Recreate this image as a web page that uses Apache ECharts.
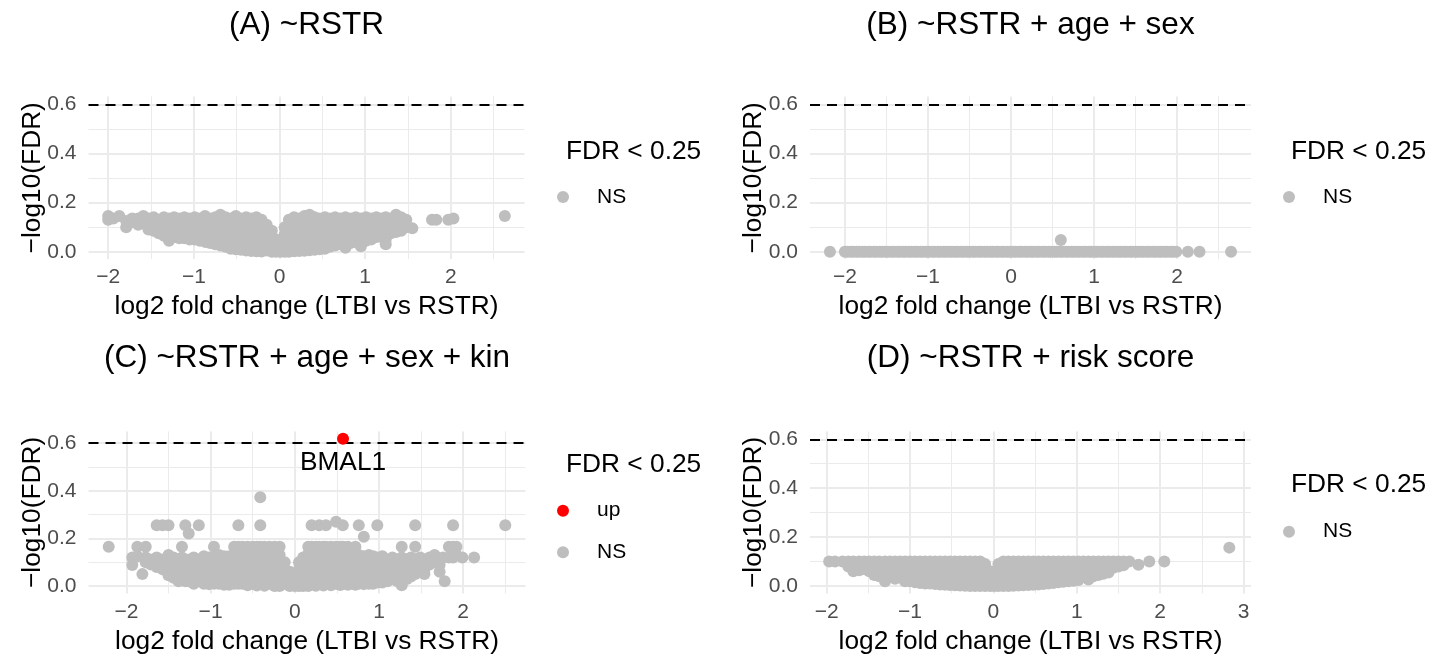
<!DOCTYPE html>
<html><head><meta charset="utf-8">
<script src="https://cdn.jsdelivr.net/npm/echarts@6/dist/echarts.min.js"></script>
<style>html,body{margin:0;padding:0;background:#fff}#c{width:1434px;height:658px}</style>
</head><body><div id="c"></div>
<script>
// ---------- text ----------
const panelTitles = ['(A) ~RSTR', '(B) ~RSTR + age + sex', '(C) ~RSTR + age + sex + kin', '(D) ~RSTR + risk score'];
const xTitle = 'log2 fold change (LTBI vs RSTR)';
const yTitle = '\u2212log10(FDR)';
const legendTitle = 'FDR < 0.25';
const nsName = 'NS';
const upName = 'up';
const upLabel = 'BMAL1';

// ---------- ticks / threshold ----------
const fdrLine = 0.602;              // -log10(0.25)
const yMajor = [0, 0.2, 0.4, 0.6];
const yMinor = [0.1, 0.3, 0.5];
const xMajorABC = [-2, -1, 0, 1, 2];
const xMinorABC = [-1.5, -0.5, 0.5, 1.5, 2.5];
const xMajorD = [-2, -1, 0, 1, 2, 3];
const xMinorD = [-1.5, -0.5, 0.5, 1.5, 2.5];
const xRangeA = [-2.23, 2.86], xRangeB = [-2.42, 2.89], xRangeC = [-2.45, 2.74], xRangeD = [-2.2, 3.09];
const yRangeABD = [-0.0301, 0.6321], yRangeC = [-0.0309, 0.6489];

// ---------- data: each row = [log2FC, -log10(FDR) values at that log2FC ...] ----------
const aNS = [
[-2.00,0.145,0.13],[-1.94,0.135],[-1.87,0.145],[-1.79,0.125,0.10],[-1.72,0.135,0.12],[-1.65,0.135,0.11],
[-1.59,0.145,0.115],[-1.53,0.135,0.11,0.09],[-1.47,0.14,0.11,0.085],[-1.41,0.13,0.10,0.075],
[-1.35,0.14,0.11,0.08,0.065],[-1.29,0.135,0.105,0.075,0.045],[-1.23,0.14,0.11,0.08,0.06],[-1.17,0.135,0.105,0.075,0.055],
[-1.11,0.14,0.11,0.08,0.055],[-1.05,0.135,0.105,0.075,0.05],[-0.99,0.14,0.11,0.08,0.05],[-0.93,0.135,0.105,0.075,0.045],
[-0.87,0.145,0.115,0.085,0.055,0.04],[-0.81,0.135,0.105,0.075,0.045,0.035],[-0.75,0.14,0.11,0.08,0.05,0.03],
[-0.69,0.15,0.12,0.09,0.06,0.035,0.025],[-0.63,0.14,0.11,0.08,0.05,0.025,0.02],[-0.57,0.135,0.105,0.075,0.045,0.02,0.012],
[-0.51,0.145,0.115,0.085,0.055,0.03,0.01],[-0.45,0.135,0.105,0.075,0.045,0.02,0.008],[-0.39,0.14,0.11,0.08,0.05,0.025,0.005],
[-0.33,0.135,0.105,0.075,0.045,0.02,0.003],[-0.27,0.14,0.11,0.08,0.05,0.025,0.002],[-0.21,0.13,0.10,0.07,0.04,0.015,0.001],
[-0.15,0.11,0.08,0.05,0.025,0.005],[-0.09,0.085,0.055,0.03,0.01,0.0],[-0.04,0.05,0.025,0.0],[0.01,0.025,0.0],
[0.06,0.10,0.07,0.04,0.015,0.0],[0.11,0.13,0.10,0.07,0.04,0.015,0.0],[0.17,0.14,0.11,0.08,0.05,0.025,0.002],
[0.23,0.135,0.105,0.075,0.045,0.02,0.003],[0.29,0.145,0.115,0.085,0.055,0.03,0.004],[0.35,0.15,0.12,0.09,0.06,0.035,0.006],
[0.41,0.14,0.11,0.08,0.05,0.025,0.008],[0.47,0.135,0.105,0.075,0.045,0.02,0.01],[0.53,0.14,0.11,0.08,0.05,0.025,0.012],
[0.59,0.135,0.105,0.075,0.045,0.02],[0.65,0.14,0.11,0.08,0.05,0.025],[0.71,0.135,0.105,0.075,0.045,0.03],
[0.77,0.14,0.11,0.08,0.05,0.03,0.016],[0.83,0.135,0.105,0.075,0.05,0.035],[0.89,0.14,0.11,0.08,0.055,0.04],
[0.95,0.135,0.105,0.075,0.05,0.022],[1.01,0.14,0.11,0.08,0.055,0.045],[1.07,0.135,0.105,0.075,0.05],
[1.13,0.14,0.11,0.08,0.06],[1.19,0.135,0.105,0.075,0.06],[1.24,0.14,0.11,0.08,0.05,0.03],[1.30,0.135,0.105,0.075],
[1.36,0.15,0.12,0.09,0.08],[1.42,0.14,0.11,0.085],[1.48,0.13,0.10],[1.55,0.095],[1.78,0.13],[1.83,0.13],
[1.97,0.13],[2.03,0.135],[2.63,0.145]
];
const bNS = [
[-2.18,0],[-2.00,0],[-1.97,0],[-1.93,0],[-1.90,0],[-1.86,0],[-1.83,0],[-1.79,0],[-1.76,0],[-1.72,0],[-1.69,0],
[-1.65,0],[-1.62,0],[-1.58,0],[-1.55,0],[-1.51,0],[-1.48,0],[-1.44,0],[-1.41,0],[-1.37,0],[-1.34,0],[-1.30,0],
[-1.27,0],[-1.23,0],[-1.20,0],[-1.16,0],[-1.13,0],[-1.09,0],[-1.06,0],[-1.02,0],[-0.99,0],[-0.95,0],[-0.92,0],
[-0.88,0],[-0.85,0],[-0.81,0],[-0.78,0],[-0.74,0],[-0.71,0],[-0.67,0],[-0.64,0],[-0.60,0],[-0.57,0],[-0.53,0],
[-0.50,0],[-0.46,0],[-0.43,0],[-0.39,0],[-0.36,0],[-0.32,0],[-0.29,0],[-0.25,0],[-0.22,0],[-0.18,0],[-0.15,0],
[-0.11,0],[-0.08,0],[-0.04,0],[-0.01,0],[0.03,0],[0.06,0],[0.10,0],[0.13,0],[0.17,0],[0.20,0],[0.24,0],[0.27,0],
[0.31,0],[0.34,0],[0.38,0],[0.41,0],[0.45,0],[0.48,0],[0.52,0],[0.55,0],[0.59,0],[0.60,0.048],[0.62,0],[0.66,0],
[0.69,0],[0.73,0],[0.76,0],[0.80,0],[0.83,0],[0.87,0],[0.90,0],[0.94,0],[0.97,0],[1.01,0],[1.04,0],[1.08,0],
[1.11,0],[1.15,0],[1.18,0],[1.22,0],[1.25,0],[1.29,0],[1.32,0],[1.36,0],[1.39,0],[1.43,0],[1.46,0],[1.50,0],
[1.53,0],[1.57,0],[1.60,0],[1.64,0],[1.67,0],[1.71,0],[1.74,0],[1.78,0],[1.81,0],[1.85,0],[1.88,0],[1.92,0],
[1.95,0],[1.99,0],[2.13,0],[2.27,0],[2.65,0]
];
const cNS = [
[-2.21,0.165],[-1.93,0.12,0.088],[-1.87,0.165,0.125],[-1.81,0.05],[-1.77,0.165,0.12,0.1],[-1.71,0.11,0.09],
[-1.64,0.255,0.12,0.1,0.08],[-1.57,0.255,0.11,0.09,0.07],[-1.5,0.255,0.13,0.1,0.07,0.045],[-1.44,0.12,0.09,0.06,0.035],
[-1.38,0.11,0.08,0.05,0.02],[-1.34,0.165,0.12,0.09,0.06,0.03],[-1.3,0.255,0.11,0.08,0.05,0.02],
[-1.26,0.22,0.11,0.08,0.05,0.02],[-1.2,0.12,0.09,0.06,0.03,0.01],[-1.14,0.255,0.11,0.08,0.05,0.02],
[-1.08,0.125,0.095,0.065,0.035,0.01],[-1.02,0.12,0.09,0.06,0.03,0.008],[-0.96,0.165,0.125,0.095,0.065,0.035,0.01],
[-0.9,0.13,0.1,0.07,0.04,0.01],[-0.84,0.125,0.095,0.065,0.035,0.005],[-0.78,0.125,0.095,0.065,0.035,0.005],
[-0.72,0.165,0.13,0.1,0.07,0.04,0.01],[-0.67,0.255,0.165,0.13,0.1,0.07,0.04,0.01],[-0.62,0.165,0.13,0.1,0.07,0.04,0.01],
[-0.56,0.165,0.135,0.105,0.075,0.045,0.015,0.003],[-0.5,0.165,0.13,0.1,0.07,0.04,0.01],[-0.45,0.165,0.135,0.105,0.075,0.045,0.015,0.002],
[-0.41,0.373,0.255,0.165,0.13,0.1,0.07,0.04,0.01],[-0.36,0.165,0.135,0.105,0.075,0.045,0.015,0.001],
[-0.3,0.165,0.13,0.1,0.07,0.04,0.01],[-0.24,0.165,0.135,0.105,0.075,0.045,0.015,0.0],[-0.18,0.165,0.13,0.1,0.07,0.04,0.01,0.0],
[-0.12,0.1,0.07,0.04,0.01],[-0.06,0.06,0.03,0.0],[0.0,0.02,0.0],[0.05,0.1,0.07,0.04,0.01,0.0],
[0.1,0.12,0.09,0.06,0.03,0.0],[0.16,0.165,0.135,0.105,0.075,0.045,0.015,0.0],[0.2,0.255,0.165,0.13,0.1,0.07,0.04,0.01],
[0.25,0.165,0.135,0.105,0.075,0.045,0.015,0.001],[0.29,0.255,0.165,0.13,0.1,0.07,0.04,0.01],[0.34,0.165,0.135,0.105,0.075,0.045,0.015,0.002],
[0.37,0.255,0.165,0.13,0.1,0.07,0.04,0.01],[0.43,0.165,0.135,0.105,0.075,0.045,0.015,0.003],[0.49,0.27,0.165,0.13,0.1,0.07,0.04,0.01],
[0.54,0.165,0.135,0.105,0.075,0.045,0.015,0.004],[0.57,0.255,0.165,0.13,0.1,0.07,0.04,0.01],[0.63,0.165,0.135,0.105,0.075,0.045,0.015,0.005],
[0.68,0.13,0.1,0.07,0.04,0.01],[0.72,0.165,0.135,0.105,0.075,0.045,0.015,0.005],[0.76,0.255,0.13,0.1,0.07,0.04,0.01],
[0.82,0.207,0.125,0.095,0.065,0.035,0.008],[0.88,0.13,0.1,0.07,0.04,0.01],[0.93,0.125,0.095,0.065,0.035,0.01],
[0.98,0.255,0.12,0.09,0.06,0.03,0.015],[1.04,0.125,0.095,0.065,0.035,0.015],[1.1,0.11,0.08,0.05,0.02],
[1.16,0.12,0.09,0.06,0.03],[1.22,0.1,0.07,0.04,0.02],[1.27,0.165,0.12,0.09,0.06,0.003],[1.33,0.11,0.08,0.05,0.03],
[1.38,0.12,0.09,0.06,0.04],[1.43,0.255,0.165,0.11,0.08,0.05],[1.49,0.12,0.09,0.06],[1.54,0.1,0.07,0.05],
[1.6,0.12,0.09],[1.66,0.13,0.1],[1.72,0.088,0.06],[1.76,0.12],[1.78,0.02],[1.83,0.165,0.12],
[1.88,0.255,0.165,0.12],[1.92,0.165,0.13],[1.99,0.12],[2.13,0.12],[2.5,0.255]
];
const cUp = [[0.573, 0.618]];
const dNS = [
[-1.97,0.1],[-1.9,0.1],[-1.81,0.1],[-1.74,0.1,0.08],[-1.68,0.1,0.06],[-1.61,0.1,0.065],[-1.55,0.1,0.07],
[-1.49,0.1,0.06],[-1.43,0.1,0.07,0.045],[-1.37,0.1,0.065,0.04],[-1.3,0.1,0.07,0.02],[-1.24,0.1,0.065,0.04],
[-1.18,0.1,0.07,0.04,0.03],[-1.12,0.1,0.065,0.035],[-1.06,0.1,0.07,0.04,0.02],[-1.0,0.1,0.065,0.035,0.02],
[-0.94,0.1,0.07,0.04,0.015],[-0.88,0.1,0.065,0.035,0.012],[-0.82,0.1,0.07,0.04,0.01],[-0.76,0.1,0.065,0.035,0.01],
[-0.7,0.1,0.07,0.04,0.008],[-0.64,0.1,0.065,0.035,0.006],[-0.58,0.1,0.07,0.04,0.005],[-0.52,0.1,0.065,0.035,0.004],
[-0.46,0.1,0.07,0.04,0.003],[-0.4,0.1,0.065,0.035,0.002],[-0.34,0.1,0.07,0.04,0.001],[-0.28,0.1,0.065,0.035,0.0],
[-0.22,0.1,0.07,0.04,0.0],[-0.16,0.1,0.065,0.035,0.0],[-0.1,0.09,0.06,0.03,0.0],[-0.04,0.06,0.03,0.0],
[0.01,0.04,0.0],[0.06,0.09,0.06,0.03,0.0],[0.12,0.1,0.07,0.04,0.0],[0.18,0.1,0.065,0.035,0.0],
[0.24,0.1,0.07,0.04,0.001],[0.3,0.1,0.065,0.035,0.002],[0.36,0.1,0.07,0.04,0.003],[0.42,0.1,0.065,0.035,0.004],
[0.48,0.1,0.07,0.04,0.005],[0.54,0.1,0.065,0.035,0.006],[0.6,0.1,0.07,0.04,0.008],[0.66,0.1,0.065,0.035,0.01],
[0.72,0.1,0.07,0.04,0.012],[0.78,0.1,0.065,0.035,0.015],[0.84,0.1,0.07,0.04,0.018],[0.9,0.1,0.065,0.035,0.02],
[0.96,0.1,0.07,0.04,0.022],[1.02,0.1,0.065,0.035,0.025],[1.08,0.1,0.07,0.04],[1.14,0.1,0.065,0.027],
[1.2,0.1,0.07,0.04],[1.26,0.1,0.065,0.045],[1.32,0.1,0.07,0.05],[1.38,0.1,0.075,0.055],[1.44,0.1,0.075],
[1.5,0.1,0.08],[1.56,0.1,0.085],[1.63,0.1],[1.74,0.087],[1.87,0.1],[2.05,0.1],[2.83,0.157]
];

// ---------- build ----------
function pts(rows) { const out = []; rows.forEach(r => { for (let i = 1; i < r.length; i++) out.push([r[0], r[i]]); }); return out; }

const FONT = '"Liberation Sans", Arial, Helvetica, sans-serif';
const GREY = '#BEBEBE', RED = '#FF0000', GRID = '#EBEBEB', AXTXT = '#4D4D4D';
const PT = 12;
const layout = [
  { left: 88.5, top: 96.4,  width: 436, height: 162.7 },
  { left: 810,  top: 96.4,  width: 441, height: 162.7 },
  { left: 88.5, top: 431.4, width: 437, height: 162 },
  { left: 810,  top: 431.4, width: 441, height: 162 }
];
const titleY = [25, 25, 358, 358];
const panels = [
  { title: panelTitles[0], xr: xRangeA, yr: yRangeABD, xMaj: xMajorABC, xMin: xMinorABC, ns: aNS },
  { title: panelTitles[1], xr: xRangeB, yr: yRangeABD, xMaj: xMajorABC, xMin: xMinorABC, ns: bNS },
  { title: panelTitles[2], xr: xRangeC, yr: yRangeC,   xMaj: xMajorABC, xMin: xMinorABC, ns: cNS, up: cUp },
  { title: panelTitles[3], xr: xRangeD, yr: yRangeABD, xMaj: xMajorD,   xMin: xMinorD,   ns: dNS }
];
const minusFmt = v => (v < 0 ? '\u2212' : '') + Math.abs(v);

const grid = [], xAxis = [], yAxis = [], series = [], graphic = [];
panels.forEach((p, i) => {
  const L = layout[i];
  grid.push({ left: L.left, top: L.top, width: L.width, height: L.height, containLabel: false });
  xAxis.push({
    gridIndex: i, type: 'value', min: p.xr[0], max: p.xr[1], position: 'bottom',
    axisLine: { show: false }, axisTick: { show: false, customValues: p.xMaj },
    axisLabel: { customValues: p.xMaj, formatter: minusFmt, color: AXTXT, fontSize: 21, fontFamily: FONT, margin: 8 },
    splitLine: { show: true, lineStyle: { color: GRID, width: 2 } },
    name: xTitle, nameLocation: 'middle', nameGap: 35, nameMoveOverlap: false,
    nameTextStyle: { color: '#000', fontSize: 26.3, fontFamily: FONT }
  });
  xAxis.push({
    gridIndex: i, type: 'value', min: p.xr[0], max: p.xr[1], position: 'top',
    axisLine: { show: false }, axisTick: { show: false, customValues: p.xMin },
    axisLabel: { show: false, customValues: p.xMin },
    splitLine: { show: true, lineStyle: { color: GRID, width: 1 } }, z: -1
  });
  yAxis.push({
    gridIndex: i, type: 'value', min: p.yr[0], max: p.yr[1], position: 'left',
    axisLine: { show: false }, axisTick: { show: false, customValues: yMajor },
    axisLabel: { customValues: yMajor, formatter: v => v.toFixed(1), color: AXTXT, fontSize: 21, fontFamily: FONT, margin: 12 },
    splitLine: { show: true, lineStyle: { color: GRID, width: 2 } },
    name: yTitle, nameLocation: 'middle', nameGap: 43, nameRotate: 90, nameMoveOverlap: false,
    nameTextStyle: { color: '#000', fontSize: 26.3, fontFamily: FONT }
  });
  yAxis.push({
    gridIndex: i, type: 'value', min: p.yr[0], max: p.yr[1], position: 'right',
    axisLine: { show: false }, axisTick: { show: false, customValues: yMinor },
    axisLabel: { show: false, customValues: yMinor },
    splitLine: { show: true, lineStyle: { color: GRID, width: 1 } }, z: -1
  });
  series.push({
    type: 'scatter', name: nsName, xAxisIndex: 2 * i, yAxisIndex: 2 * i,
    data: pts(p.ns), symbol: 'circle', symbolSize: PT,
    itemStyle: { color: GREY, opacity: 1 }, emphasis: { disabled: true }, z: 2,
    markLine: {
      silent: true, symbol: 'none', label: { show: false }, z: 4,
      lineStyle: { color: '#000', type: [10, 7], width: 2 },
      data: [{ yAxis: fdrLine }]
    }
  });
  if (p.up) {
    series.push({
      type: 'scatter', name: upName, xAxisIndex: 2 * i, yAxisIndex: 2 * i,
      data: p.up.map(d => ({ value: d, name: upLabel })), symbol: 'circle', symbolSize: PT,
      itemStyle: { color: RED, opacity: 1 }, emphasis: { disabled: true }, z: 6,
      label: { show: true, formatter: '{b}', position: 'bottom', distance: 5, color: '#000', fontSize: 26.3, fontFamily: FONT }
    });
  }
  graphic.push({
    type: 'text', x: L.left + L.width / 2, y: titleY[i],
    style: { text: p.title, fill: '#000', font: '31.5px ' + FONT, textAlign: 'center', textVerticalAlign: 'middle', verticalAlign: 'middle' }
  });
});

const legendBase = {
  orient: 'vertical', icon: 'circle', itemWidth: 58, itemHeight: PT, padding: 0, itemGap: 19.6,
  selectedMode: false, textStyle: { fontSize: 21, color: '#000', fontFamily: FONT, lineHeight: 22 }
};
const legend = [
  Object.assign({}, legendBase, { data: [nsName], left: 557, top: 186 }),
  Object.assign({}, legendBase, { data: [nsName], left: 1283, top: 186 }),
  Object.assign({}, legendBase, { data: [upName, nsName], left: 557, top: 499.7 }),
  Object.assign({}, legendBase, { data: [nsName], left: 1283, top: 520.7 })
];
const legendTitlePos = [[566, 152], [1291, 152], [566, 465], [1291, 485]];
legendTitlePos.forEach(([x, y]) => graphic.push({
  type: 'text', x: x, y: y,
  style: { text: legendTitle, fill: '#000', font: '26.3px ' + FONT, textAlign: 'left', textVerticalAlign: 'middle', verticalAlign: 'middle' }
}));

const chart = echarts.init(document.getElementById('c'), null, { renderer: 'canvas' });
chart.setOption({ animation: false, backgroundColor: '#fff', grid, xAxis, yAxis, series, legend, graphic });
</script></body></html>
